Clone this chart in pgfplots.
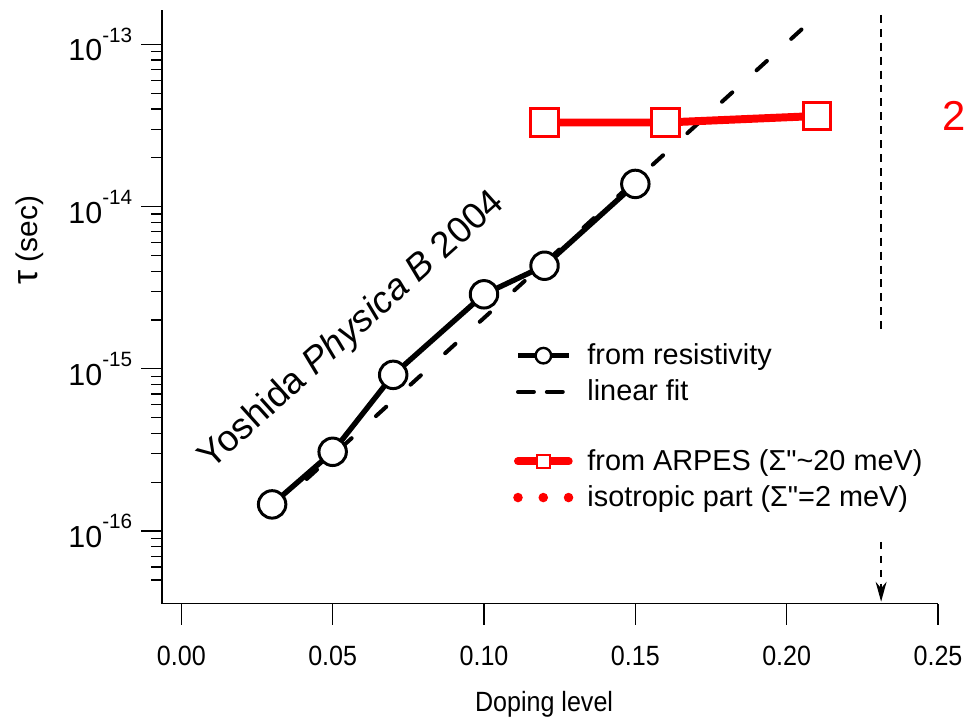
\documentclass[border=0pt]{standalone}
\usepackage{pgfplots}
\pgfplotsset{compat=1.18}
\usepackage{fontspec}
\setmainfont{Liberation Sans}
\newfontfamily\narrowfont{Liberation Sans}[FakeStretch=0.9]
\newfontfamily\qfont{Liberation Sans}[Ligatures=TeXOff]
\usetikzlibrary{arrows.meta}
\definecolor{igred}{RGB}{255,0,0}
\newcommand{\tenexp}[1]{10\raisebox{0.62em}{\fontsize{10.4}{12}\selectfont #1}}
\begin{document}
\begin{tikzpicture}
\begin{axis}[
  at={(0,0)}, anchor=south west,
  scale only axis, width=390pt, height=298.5pt,
  xmin=-0.00634, xmax=0.25,
  ymode=log, ymin=3.56e-17, ymax=1.63e-13,
  axis lines=left,
  axis line style={-, line width=0.65pt},
  every tick/.style={black, line width=0.65pt},
  tick align=outside,
  major tick length=10.5pt, minor tick length=5.5pt,
  xtick={0,0.05,0.10,0.15,0.20,0.25},
  xticklabels={0.00,0.05,0.10,0.15,0.20,0.25},
  minor xtick={},
  ytick={1e-16,1e-15,1e-14,1e-13},
  yticklabels={\tenexp{-16},\tenexp{-15},\tenexp{-14},\tenexp{-13}},
  minor ytick={5e-17,6e-17,7e-17,8e-17,9e-17,
    2e-16,3e-16,4e-16,5e-16,6e-16,7e-16,8e-16,9e-16,
    2e-15,3e-15,4e-15,5e-15,6e-15,7e-15,8e-15,9e-15,
    2e-14,3e-14,4e-14,5e-14,6e-14,7e-14,8e-14,9e-14},
  xticklabel style={font=\narrowfont\fontsize{14}{16}\selectfont, yshift=-7pt},
  yticklabel style={font=\fontsize{15.3}{17}\selectfont, xshift=-1pt},
  clip=false,
  legend cell align=left,
  legend style={draw=none, fill=none, at={(rel axis cs:0.4520,0.4420)}, anchor=north west,
    font=\fontsize{14.5}{16.5}\selectfont, row sep=4.2pt, column sep=6pt, inner sep=0pt,
    nodes={inner sep=1pt}},
  legend image code/.code={\draw[mark repeat=2,mark phase=2,#1] plot coordinates {(0pt,0pt) (12.75pt,0pt) (25.5pt,0pt)};},
]
% legend images
\addlegendimage{black, line width=2.4pt, mark=*, mark options={fill=white, draw=black, line width=1.2pt, mark size=3.9pt, solid}}
\addlegendentry{from resistivity}
\addlegendimage{black, line width=2pt, line cap=round, dash pattern=on 8pt off 6.5pt}
\addlegendentry{linear fit}
\addlegendimage{empty legend}
\addlegendentry{\rule[-4pt]{0pt}{13pt}}
\addlegendimage{igred, line width=4pt, line cap=round, mark=square*, mark options={fill=white, draw=igred, line width=1.1pt, mark size=3.3pt, solid}}
\addlegendentry{from ARPES (Σ{\qfont"}\textasciitilde 20 meV)}
\addlegendimage{igred, line width=4.8pt, line cap=round, dash pattern=on 0pt off 12.7pt}
\addlegendentry{isotropic part (Σ{\qfont"}=2 meV)}

% linear fit
\addplot[forget plot, black, line width=2pt, line cap=round, dash pattern=on 7pt off 16.5pt] coordinates {
  (0.03,1.34e-16) (0.209,1.45e-13)};
% resistivity
\addplot[forget plot, black, line width=2.7pt, line join=round, mark=*, mark options={fill=white, draw=black, line width=1.5pt, mark size=6.9pt}] coordinates {
  (0.03,1.46e-16) (0.05,3.08e-16) (0.07,9.18e-16) (0.10,2.88e-15) (0.12,4.32e-15) (0.15,1.38e-14)};
% ARPES
\addplot[forget plot, igred, line width=4pt, mark=square*, mark options={fill=white, draw=igred, line width=1.5pt, mark size=6.9pt}] coordinates {
  (0.12,3.30e-14) (0.16,3.30e-14) (0.21,3.62e-14)};
% vertical dashed line
\addplot[forget plot, black, line width=0.7pt, dash pattern=on 4pt off 3pt] coordinates {
  (0.2312,1.52e-13) (0.2312,1.66e-15)};
% arrow
\addplot[forget plot, black, line width=0.7pt, dash pattern=on 3.5pt off 3.5pt, -{Stealth[length=10pt,width=5.5pt]}] coordinates {
  (0.2312,8.57e-17) (0.2312,3.67e-17)};

\node[rotate=42, font=\fontsize{18.5}{20}\selectfont] at (axis cs:0.0565,1.72e-15) {Yoshida \textit{Physica B} 2004};
\node[text=igred, font=\fontsize{21}{24}\selectfont] at (axis cs:0.2552,3.6e-14) {2};
\node[rotate=90, font=\fontsize{15}{17}\selectfont] at (rel axis cs:-0.1705,0.612) {{\fontsize{18}{19}\selectfont τ} (sec)};
\node[font=\narrowfont\fontsize{14}{16}\selectfont] at (rel axis cs:0.4923,-0.170) {Doping level};

\path[use as bounding box] (rel axis cs:-0.20897,-0.19379) rectangle (rel axis cs:1.03718,1.01674);
\end{axis}
\end{tikzpicture}
\end{document}
